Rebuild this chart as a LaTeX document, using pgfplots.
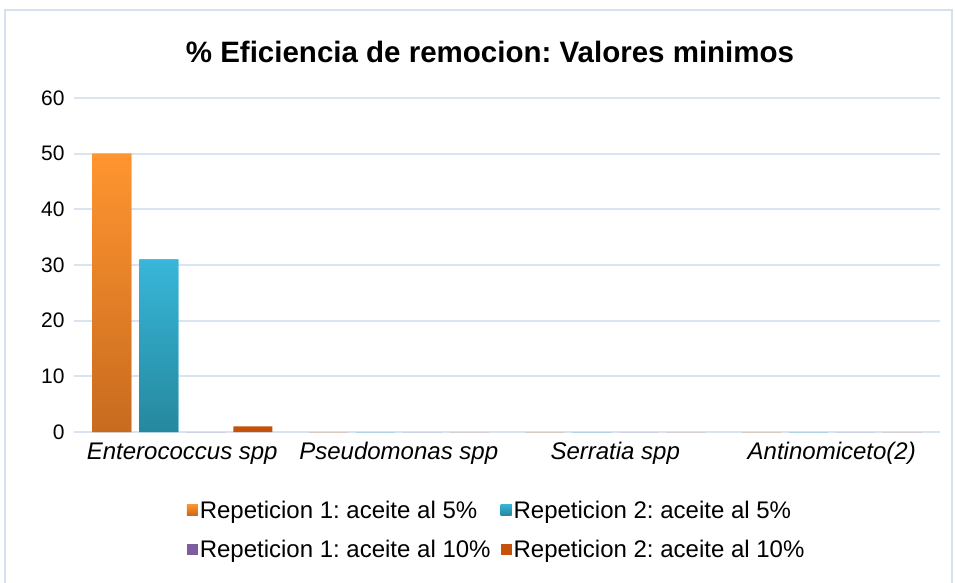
\documentclass[border=0pt]{standalone}
\usepackage{pgfplots}
\pgfplotsset{compat=1.18}
\usepackage{fontspec}
\setmainfont{Liberation Sans}
\frenchspacing
\definecolor{gridc}{HTML}{D9E3F1}
\definecolor{borderc}{HTML}{D6E1F0}
\definecolor{orT}{HTML}{FF9530}
\definecolor{orB}{HTML}{C86B1F}
\definecolor{blT}{HTML}{38B6D9}
\definecolor{blB}{HTML}{25889E}
\definecolor{pur}{HTML}{7E5CA0}
\definecolor{dor}{HTML}{C4520A}
\begin{document}
\begin{tikzpicture}[x=1pt,y=1pt]
\useasboundingbox (0,0) rectangle (955,582);
\draw[borderc, line width=1.5pt] (5,-5) rectangle (952,572);
\node[font=\fontsize{29.5}{33}\selectfont\bfseries] at (490,530) {\% Eficiencia de remocion: Valores minimos};
\begin{axis}[
  at={(74pt,150pt)}, anchor=south west,
  scale only axis, width=866pt, height=334pt,
  ybar=8pt, bar width=39pt,
  xmin=-0.5, xmax=3.5, ymin=0, ymax=60,
  ytick={0,10,...,60},
  xtick=data,
  xticklabels={Enterococcus spp, Pseudomonas spp, Serratia spp, Antinomiceto(2)},
  x tick label style={font=\fontsize{24}{27}\selectfont\itshape, yshift=-7pt},
  y tick label style={font=\fontsize{21}{24}\selectfont},
  /pgf/number format/assume math mode=true,
  axis line style={draw=none},
  major tick length=0pt,
  ymajorgrids, grid style={gridc, line width=1.8pt},
  yticklabel style={xshift=-6pt},
  legend columns=2,
  legend cell align=left,
  legend style={draw=none, fill=none, at={(axis description cs:0.488,-0.193)}, anchor=north,
    font=\fontsize{24}{27}\selectfont, row sep=17pt, /tikz/every even column/.append style={column sep=8pt}},
  legend image code/.code={\fill[#1] (0pt,-5pt) rectangle (11pt,6pt);},
]
\addplot[draw=none, top color=orT, bottom color=orB, fill=orT] coordinates {(0,50) (1,0) (2,0) (3,0)};
\addplot[draw=none, top color=blT, bottom color=blB, fill=blT] coordinates {(0,31) (1,0) (2,0) (3,0)};
\addplot[draw=none, fill=pur] coordinates {(0,0) (1,0) (2,0) (3,0)};
\addplot[draw=none, fill=dor] coordinates {(0,1) (1,0) (2,0) (3,0)};
\legend{Repeticion 1: aceite al 5\%, Repeticion 2: aceite al 5\%, Repeticion 1: aceite al 10\%, Repeticion 2: aceite al 10\%}
\end{axis}
\end{tikzpicture}
\end{document}
